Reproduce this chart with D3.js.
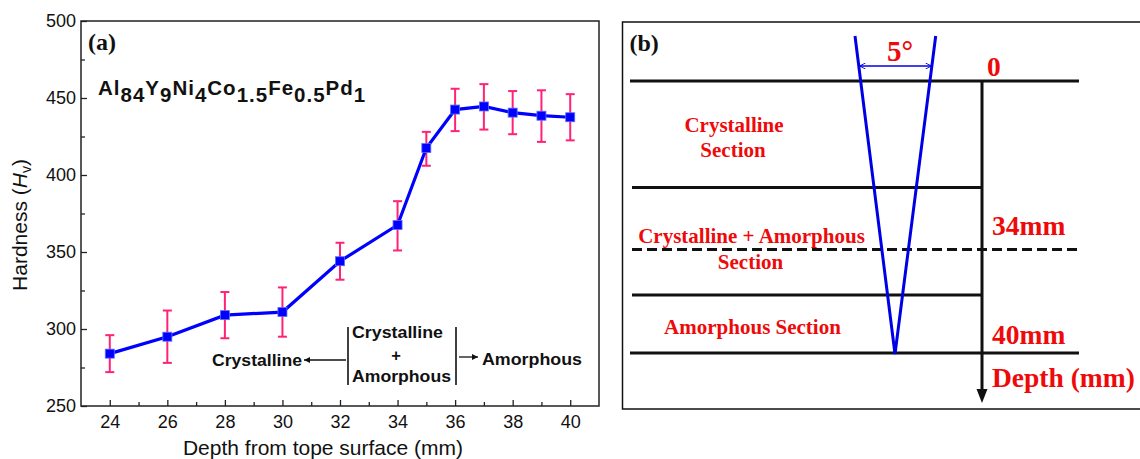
<!DOCTYPE html>
<html><head><meta charset="utf-8">
<script src="https://cdn.jsdelivr.net/npm/d3@7"></script>
<style>body{margin:0;background:#fff;} svg{display:block;}</style>
</head><body>
<svg id="c" width="1140" height="459"></svg>
<script>
// ---------- data (panel a) ----------
const depth    = [24, 26, 28, 30, 32, 34, 35, 36, 37, 38, 39, 40];
const hardness = [284, 295, 309, 311, 344, 367.5, 417.5, 442.5, 444.5, 440.5, 438.5, 437.5];
const errUpper = [296, 312, 324, 327, 356, 383, 428, 456, 459, 454.5, 455, 452.5];
const errLower = [272, 278, 294, 295, 332, 351, 406, 428.5, 429.5, 426.5, 421.5, 422.5];
const xTicks = [24, 26, 28, 30, 32, 34, 36, 38, 40];
const xMinor = [25, 27, 29, 31, 33, 35, 37, 39];
const yTicks = [250, 300, 350, 400, 450, 500];
const yMinor = [275, 325, 375, 425, 475];

// ---------- data (panel b schematic) ----------
const levelNames  = ["0", "34mm", "40mm"];
const sectionText = [["Crystalline", "Section"], ["Crystalline + Amorphous", "Section"], ["Amorphous Section"]];

const svg = d3.select("#c");
const SANS = "'Liberation Sans', Arial, sans-serif";
const SERIF = "'Liberation Serif', 'Times New Roman', serif";

// ================= Panel (a) =================
const L = 81, R = 599, T = 21, B = 406;
const x = d3.scaleLinear().domain([23, 41]).range([L, R]);
const y = d3.scaleLinear().domain([250, 500]).range([B, T]);

const gA = svg.append("g");

// axes (inward ticks)
const xAx = gA.append("g").attr("transform", `translate(0,${B})`)
  .call(d3.axisBottom(x).tickValues(xTicks).tickSize(-6).tickPadding(9).tickFormat(d3.format("d")));
const xAxm = gA.append("g").attr("transform", `translate(0,${B})`)
  .call(d3.axisBottom(x).tickValues(xMinor).tickSize(-4).tickFormat(""));
const yAx = gA.append("g").attr("transform", `translate(${L},0)`)
  .call(d3.axisLeft(y).tickValues(yTicks).tickSize(-6).tickPadding(5).tickFormat(d3.format("d")));
const yAxm = gA.append("g").attr("transform", `translate(${L},0)`)
  .call(d3.axisLeft(y).tickValues(yMinor).tickSize(-4).tickFormat(""));
[xAx, xAxm, yAx, yAxm].forEach(g => {
  g.select(".domain").remove();
  g.selectAll("line").attr("stroke", "#222").attr("stroke-width", 1.3);
  g.selectAll("text").attr("font-family", SANS).attr("font-size", 18).attr("fill", "#111");
});

// frame
gA.append("rect").attr("x", L).attr("y", T).attr("width", R - L).attr("height", B - T)
  .attr("fill", "none").attr("stroke", "#222").attr("stroke-width", 1.5);

// axis titles
gA.append("text").attr("x", 323).attr("y", 455).attr("text-anchor", "middle")
  .attr("font-family", SANS).attr("font-size", 21).attr("fill", "#111")
  .text("Depth from tope surface (mm)");
const yt = gA.append("text").attr("transform", "translate(27,225) rotate(-90)")
  .attr("text-anchor", "middle").attr("font-family", SANS).attr("font-size", 21).attr("fill", "#111");
yt.append("tspan").text("Hardness (");
yt.append("tspan").attr("font-style", "italic").text("H");
yt.append("tspan").attr("font-size", 14).attr("dy", 4).text("v");
yt.append("tspan").attr("dy", -4).text(")");

// error bars
const err = gA.append("g").attr("stroke", "#ff2277").attr("stroke-width", 2);
depth.forEach((d, i) => {
  const cx = x(d);
  err.append("line").attr("x1", cx).attr("x2", cx).attr("y1", y(errUpper[i])).attr("y2", y(errLower[i]));
  err.append("line").attr("x1", cx - 4.5).attr("x2", cx + 4.5).attr("y1", y(errUpper[i])).attr("y2", y(errUpper[i]));
  err.append("line").attr("x1", cx - 4.5).attr("x2", cx + 4.5).attr("y1", y(errLower[i])).attr("y2", y(errLower[i]));
});

// line
gA.append("path").datum(depth.map((d, i) => [d, hardness[i]]))
  .attr("fill", "none").attr("stroke", "#0000ff").attr("stroke-width", 3.2)
  .attr("d", d3.line().x(d => x(d[0])).y(d => y(d[1])));

// markers
gA.append("g").selectAll("rect").data(depth.map((d, i) => [d, hardness[i]])).join("rect")
  .attr("x", d => x(d[0]) - 4.5).attr("y", d => y(d[1]) - 4.5)
  .attr("width", 9).attr("height", 9).attr("fill", "#0000ff")
  .attr("stroke", "#5a6cff").attr("stroke-width", 0.8);

// (a) label
gA.append("text").attr("x", 88).attr("y", 50).attr("font-family", SERIF)
  .attr("font-weight", "bold").attr("font-size", 24).attr("fill", "#111").text("(a)");

// formula
const parts = [["Al", 0], ["84", 1], ["Y", 0], ["9", 1], ["Ni", 0], ["4", 1], ["Co", 0], ["1.5", 1],
               ["Fe", 0], ["0.5", 1], ["Pd", 0], ["1", 1]];
const ft = gA.append("text").attr("x", 98).attr("y", 95).attr("font-family", SANS)
  .attr("font-weight", "bold").attr("font-size", 20.5).attr("letter-spacing", 1).attr("fill", "#111");
let prev = 0;
parts.forEach(([t, sub]) => {
  const dy = sub ? 7 : 0;
  ft.append("tspan").attr("dy", dy - prev).text(t);
  prev = dy;
});

// annotation
const ann = gA.append("g").attr("font-family", SANS).attr("font-weight", "bold").attr("fill", "#111");
ann.append("text").attr("x", 212).attr("y", 366).attr("font-size", 16.5)
  .attr("textLength", 90).attr("lengthAdjust", "spacingAndGlyphs").text("Crystalline");
ann.append("text").attr("x", 352).attr("y", 338).attr("font-size", 16.5)
  .attr("textLength", 91).attr("lengthAdjust", "spacingAndGlyphs").text("Crystalline");
ann.append("text").attr("x", 396).attr("y", 361).attr("font-size", 16.5).attr("text-anchor", "middle").text("+");
ann.append("text").attr("x", 352).attr("y", 382).attr("font-size", 16.5)
  .attr("textLength", 99).attr("lengthAdjust", "spacingAndGlyphs").text("Amorphous");
ann.append("text").attr("x", 482).attr("y", 365).attr("font-size", 16.5)
  .attr("textLength", 100).attr("lengthAdjust", "spacingAndGlyphs").text("Amorphous");

const defs = svg.append("defs");
defs.append("marker").attr("id", "ah").attr("viewBox", "0 0 10 10").attr("refX", 10).attr("refY", 5)
  .attr("markerWidth", 10).attr("markerHeight", 6).attr("markerUnits", "userSpaceOnUse").attr("orient", "auto")
  .append("path").attr("d", "M0,0 L10,5 L0,10 Z").attr("fill", "#111");
ann.append("line").attr("x1", 346).attr("x2", 304).attr("y1", 360).attr("y2", 360)
  .attr("stroke", "#111").attr("stroke-width", 1.3).attr("marker-end", "url(#ah)");
ann.append("line").attr("x1", 459).attr("x2", 478).attr("y1", 357).attr("y2", 357)
  .attr("stroke", "#111").attr("stroke-width", 1.3).attr("marker-end", "url(#ah)");
[348, 456].forEach(bx => ann.append("line").attr("x1", bx).attr("x2", bx).attr("y1", 327).attr("y2", 385)
  .attr("stroke", "#111").attr("stroke-width", 1.6));

// ================= Panel (b) =================
const gB = svg.append("g");
const RED = "#ee0a0a";
gB.append("rect").attr("x", 622.5).attr("y", 22).attr("width", 530).attr("height", 387)
  .attr("fill", "none").attr("stroke", "#111").attr("stroke-width", 1.5);
gB.append("text").attr("x", 629.5).attr("y", 51).attr("font-family", SERIF)
  .attr("font-weight", "bold").attr("font-size", 24).attr("fill", "#111").text("(b)");

// horizontal layer lines
const hl = [
  {y: 81, x1: 630, x2: 1079, dash: null},
  {y: 187.5, x1: 632, x2: 982, dash: null},
  {y: 249.5, x1: 632, x2: 1079, dash: "10,5"},
  {y: 295, x1: 632, x2: 982, dash: null},
  {y: 353, x1: 630, x2: 1079, dash: null}
];
gB.selectAll("line.h").data(hl).join("line").attr("class", "h")
  .attr("x1", d => d.x1).attr("x2", d => d.x2).attr("y1", d => d.y).attr("y2", d => d.y)
  .attr("stroke", "#111").attr("stroke-width", 3).attr("stroke-dasharray", d => d.dash);

// depth axis
gB.append("line").attr("x1", 982).attr("x2", 982).attr("y1", 80).attr("y2", 390)
  .attr("stroke", "#111").attr("stroke-width", 3);
gB.append("path").attr("d", "M976.5,389 L987.5,389 L982,403 Z").attr("fill", "#111");

// indenter V
gB.append("polyline").attr("points", "855,36 895,354 935.7,36")
  .attr("fill", "none").attr("stroke", "#0000e6").attr("stroke-width", 3).attr("stroke-linejoin", "miter");
defs.append("marker").attr("id", "bh").attr("viewBox", "0 0 10 10").attr("refX", 10).attr("refY", 5)
  .attr("markerWidth", 7).attr("markerHeight", 6).attr("markerUnits", "userSpaceOnUse").attr("orient", "auto-start-reverse")
  .append("path").attr("d", "M0,0 L10,5 L0,10").attr("fill", "none").attr("stroke", "#0000e6").attr("stroke-width", 1.5);
gB.append("line").attr("x1", 859.5).attr("x2", 931.5).attr("y1", 66).attr("y2", 66)
  .attr("stroke", "#0000e6").attr("stroke-width", 1.5)
  .attr("marker-start", "url(#bh)").attr("marker-end", "url(#bh)");

const rt = gB.append("g").attr("font-family", SERIF).attr("font-weight", "bold").attr("fill", RED);
rt.append("text").attr("x", 900).attr("y", 61).attr("font-size", 29).attr("text-anchor", "middle").text("5°");
const lvlPos = [[987, 76], [992, 235], [992, 344]];
levelNames.forEach((t, i) => rt.append("text").attr("x", lvlPos[i][0]).attr("y", lvlPos[i][1]).attr("font-size", 27.5).text(t));
rt.append("text").attr("x", 992).attr("y", 387).attr("font-size", 27.5).text("Depth (mm)");

const secPos = [[[734, 132], [733, 157]], [[751.5, 243], [750.5, 269]], [[752.5, 334]]];
sectionText.forEach((lines, i) => lines.forEach((t, j) =>
  rt.append("text").attr("x", secPos[i][j][0]).attr("y", secPos[i][j][1])
    .attr("font-size", 21).attr("text-anchor", "middle").text(t)));
</script>
</body></html>
